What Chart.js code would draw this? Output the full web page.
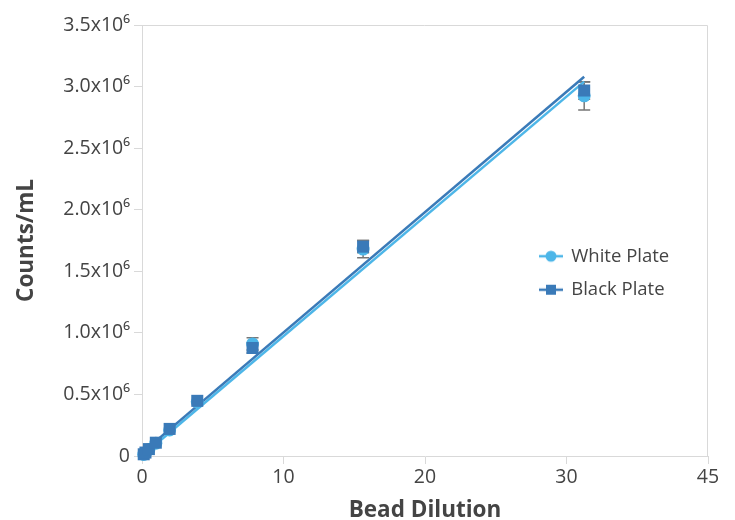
<!DOCTYPE html>
<html>
<head>
<meta charset="utf-8">
<script src="https://cdn.jsdelivr.net/npm/chart.js@4"></script>
<style>
  html, body { margin: 0; padding: 0; background: #fff; }
  #wrap { width: 735px; height: 520px; }
</style>
</head>
<body>
<div id="wrap"><canvas id="beadChart" width="735" height="520"></canvas></div>
<script>
// dilution series (x) and counts/mL (y)
const dilution = [0.122, 0.244, 0.488, 0.977, 1.953, 3.906, 7.8125, 15.625, 31.25];
const whitePlate = [13000, 27000, 53000, 104000, 212000, 440000, 910000, 1680000, 2925000];
const blackPlate = [14000, 28000, 56000, 108000, 220000, 448000, 877000, 1700000, 2968000];
const whiteError = [0, 0, 0, 0, 0, 0, 50000, 70000, 115000];
const blackError = [0, 0, 0, 0, 0, 0, 40000, 50000, 70000];

// linear fits
const fitX = [0, 31.25];
const whiteFit = [0, 3040000];
const blackFit = [25000, 3080000];

const xTickLabels = ['0', '10', '20', '30', '45'];
const yTickLabels = ['0', '0.5x10⁶', '1.0x10⁶', '1.5x10⁶', '2.0x10⁶', '2.5x10⁶', '3.0x10⁶', '3.5x10⁶'];

const WHITE = '#4db6e8';
const BLACK = '#3a7ab8';
const TEXT = '#444';
const GRID = '#d9d9d9';

const toPoints = (xs, ys) => xs.map((x, i) => ({ x: x, y: ys[i] }));

// little line + marker images for the legend
function legendIcon(color, shape) {
    const c = document.createElement('canvas');
    c.width = 24;
    c.height = 14;
    const g = c.getContext('2d');
    g.strokeStyle = color;
    g.fillStyle = color;
    g.lineWidth = 2.5;
    g.beginPath();
    g.moveTo(0, 7);
    g.lineTo(24, 7);
    g.stroke();
    if (shape === 'circle') {
        g.beginPath();
        g.arc(12, 7, 5.5, 0, Math.PI * 2);
        g.fill();
    } else {
        g.fillRect(7, 2, 10, 10);
    }
    return c;
}

const errorBars = {
    id: 'errorBars',
    beforeDatasetsDraw(chart) {
        const { ctx, scales: { x, y } } = chart;
        ctx.save();
        ctx.strokeStyle = '#777';
        ctx.lineWidth = 1.5;
        [[whitePlate, whiteError], [blackPlate, blackError]].forEach(([vals, errs]) => {
            dilution.forEach((d, i) => {
                if (!errs[i]) return;
                const px = x.getPixelForValue(d);
                const top = y.getPixelForValue(vals[i] + errs[i]);
                const bot = y.getPixelForValue(vals[i] - errs[i]);
                ctx.beginPath();
                ctx.moveTo(px, top);
                ctx.lineTo(px, bot);
                ctx.moveTo(px - 6, top);
                ctx.lineTo(px + 6, top);
                ctx.moveTo(px - 6, bot);
                ctx.lineTo(px + 6, bot);
                ctx.stroke();
            });
        });
        ctx.restore();
    }
};

const plotFrame = {
    id: 'plotFrame',
    beforeDatasetsDraw(chart) {
        const { ctx, chartArea: a } = chart;
        ctx.save();
        ctx.strokeStyle = GRID;
        ctx.lineWidth = 1;
        ctx.beginPath();
        ctx.moveTo(a.left, a.top + 0.5);
        ctx.lineTo(a.right - 0.5, a.top + 0.5);
        ctx.lineTo(a.right - 0.5, a.bottom);
        ctx.stroke();
        ctx.restore();
    }
};

// move the legend inside the plot, right of centre
const legendPlace = {
    id: 'legendPlace',
    afterLayout(chart) {
        const lg = chart.legend;
        if (!lg) return;
        lg.left = 525;
        lg.right = 715;
        lg.width = 190;
        lg.top = 232;
        lg.bottom = 340;
        lg.height = 108;
    }
};

new Chart(document.getElementById('beadChart'), {
    type: 'scatter',
    data: {
        datasets: [
            {
                label: 'White Plate',
                data: toPoints(dilution, whitePlate),
                pointStyle: 'circle',
                pointRadius: 6.5,
                pointHoverRadius: 6.5,
                backgroundColor: WHITE,
                borderColor: WHITE,
                borderWidth: 0,
                clip: false,
                order: 1
            },
            {
                label: 'Black Plate',
                data: toPoints(dilution, blackPlate),
                pointStyle: 'rect',
                pointRadius: 8.5,
                pointHoverRadius: 8.5,
                backgroundColor: BLACK,
                borderColor: BLACK,
                borderWidth: 0,
                clip: false,
                order: 0
            },
            {
                label: 'White fit',
                type: 'line',
                data: toPoints(fitX, whiteFit),
                borderColor: WHITE,
                borderWidth: 2.5,
                pointRadius: 0,
                order: 3
            },
            {
                label: 'Black fit',
                type: 'line',
                data: toPoints(fitX, blackFit),
                borderColor: BLACK,
                borderWidth: 2.5,
                pointRadius: 0,
                order: 2
            }
        ]
    },
    options: {
        responsive: false,
        animation: false,
        layout: { padding: { top: 25, right: 27, left: 0, bottom: 0 } },
        plugins: {
            tooltip: { enabled: false },
            legend: {
                position: 'chartArea',
                align: 'start',
                labels: {
                    usePointStyle: true,
                    pointStyleWidth: 22,
                    padding: 15,
                    color: TEXT,
                    font: { family: 'Open Sans', size: 18.5 },
                    filter: item => item.datasetIndex < 2,
                    sort: (a, b) => a.datasetIndex - b.datasetIndex,
                    generateLabels(chart) {
                        const items = Chart.defaults.plugins.legend.labels.generateLabels(chart);
                        items.forEach(it => {
                            if (it.datasetIndex === 0) it.pointStyle = legendIcon(WHITE, 'circle');
                            if (it.datasetIndex === 1) it.pointStyle = legendIcon(BLACK, 'rect');
                        });
                        return items;
                    }
                }
            }
        },
        scales: {
            x: {
                type: 'linear',
                min: 0,
                max: 40,
                afterBuildTicks(scale) {
                    scale.ticks = [0, 10, 20, 30, 40].map(v => ({ value: v }));
                },
                afterFit(scale) { scale.height = 64; },
                ticks: {
                    color: TEXT,
                    padding: 2,
                    font: { family: 'Open Sans', size: 19.5 },
                    callback: (v, i) => xTickLabels[i]
                },
                grid: { drawOnChartArea: false, drawTicks: true, tickLength: 8, color: GRID },
                border: { color: GRID },
                title: {
                    display: true,
                    text: 'Bead Dilution',
                    color: TEXT,
                    font: { family: 'Open Sans', size: 22.5, weight: 'bold', lineHeight: 0.85 },
                    padding: { top: 0, bottom: 0 }
                }
            },
            y: {
                type: 'linear',
                min: 0,
                max: 3500000,
                afterBuildTicks(scale) {
                    scale.ticks = yTickLabels.map((t, i) => ({ value: i * 500000 }));
                },
                afterFit(scale) { scale.width = 142; },
                ticks: {
                    color: TEXT,
                    padding: 4,
                    font: { family: 'Open Sans', size: 19.5 },
                    callback: (v, i) => yTickLabels[i]
                },
                grid: { drawOnChartArea: false, drawTicks: true, tickLength: 8, color: GRID },
                border: { color: GRID },
                title: {
                    display: true,
                    text: 'Counts/mL',
                    color: TEXT,
                    font: { family: 'Open Sans', size: 22.5, weight: 'bold', lineHeight: 1.2 },
                    padding: { top: 13, bottom: 0 }
                }
            }
        }
    },
    plugins: [errorBars, plotFrame, legendPlace]
});
</script>
</body>
</html>
